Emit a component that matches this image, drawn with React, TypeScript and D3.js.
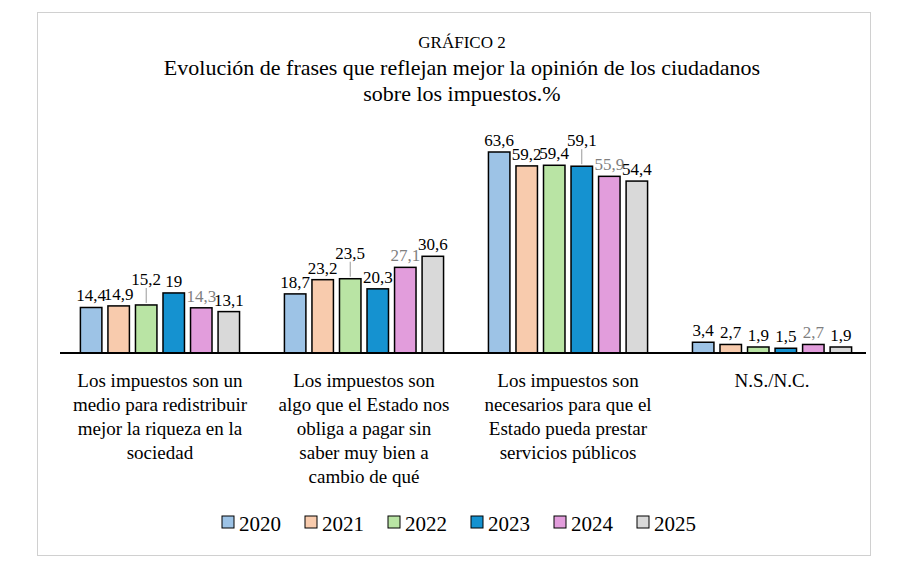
import * as d3 from "d3";
import React from "react";

const categories = [
  ["Los impuestos son un", "medio para redistribuir", "mejor la riqueza en la", "sociedad"],
  ["Los impuestos son", "algo que el Estado nos", "obliga a pagar sin", "saber muy bien a", "cambio de qué"],
  ["Los impuestos son", "necesarios para que el", "Estado pueda prestar", "servicios públicos"],
  ["N.S./N.C."],
];
const years = ["2020", "2021", "2022", "2023", "2024", "2025"];
const values = [
  [14.4, 14.9, 15.2, 19, 14.3, 13.1],
  [18.7, 23.2, 23.5, 20.3, 27.1, 30.6],
  [63.6, 59.2, 59.4, 59.1, 55.9, 54.4],
  [3.4, 2.7, 1.9, 1.5, 2.7, 1.9],
];
// labels lifted with a leader line: [group, year index]
const lifted = [[0, 2], [1, 2], [2, 3]];
const colors = ["#9dc3e6", "#f8cbad", "#b9e4a4", "#1592d0", "#e29ddc", "#d9d9d9"];
const labelColors = ["#000", "#000", "#000", "#000", "#7f7f7f", "#000"];

const fmt = (v: number) => (Number.isInteger(v) ? String(v) : v.toFixed(1).replace(".", ","));

export default function App() {
  const base = 353;
  const x0 = d3.scaleBand<number>().domain([0, 1, 2, 3]).range([60, 872]).paddingInner(0.22).paddingOuter(0.1);
  const x1 = d3.scaleBand<number>().domain(d3.range(6)).range([0, x0.bandwidth()]).paddingInner(0.22);
  const y = d3.scaleLinear().domain([0, 63.6]).range([base, 152]);
  const font = "Liberation Serif, Times New Roman, serif";
  return (
    <div style={{ position: "absolute", left: 0, top: 0 }}>
      <svg width={924} height={576} fontFamily={font} style={{ display: "block" }}>
        <rect x={0} y={0} width={924} height={576} fill="#fff" />
        <rect x={37.5} y={12.5} width={833} height={543} fill="none" stroke="#d0d0d0" />
        <text x={462} y={48} textAnchor="middle" fontSize={17} fontFamily={font}>GRÁFICO 2</text>
        <text x={462} y={75} textAnchor="middle" fontSize={22} fontFamily={font}>Evolución de frases que reflejan mejor la opinión de los ciudadanos</text>
        <text x={462} y={101} textAnchor="middle" fontSize={22} fontFamily={font}>sobre los impuestos.%</text>
        {values.map((vals, g) => (
          <g key={g} transform={`translate(${x0(g)},0)`}>
            {vals.map((v, i) => {
              const bx = x1(i)!;
              const cx = bx + x1.bandwidth() / 2;
              const isLift = lifted.some(([a, b]) => a === g && b === i);
              const ty = y(v) - 6 - (isLift ? 14 : 0);
              return (
                <g key={i}>
                  <rect x={bx} y={y(v)} width={x1.bandwidth()} height={base - y(v)} fill={colors[i]} stroke="#000" strokeWidth={1.5} />
                  {isLift && <line x1={cx} x2={cx} y1={ty + 3} y2={y(v) - 2} stroke="#999" />}
                  <text x={cx} y={ty} textAnchor="middle" fontSize={17} fontFamily={font} fill={labelColors[i]}>{fmt(v)}</text>
                </g>
              );
            })}
          </g>
        ))}
        <line x1={60} x2={866} y1={base} y2={base} stroke="#000" strokeWidth={2} />
        {categories.map((lines, g) => (
          <text key={g} textAnchor="middle" fontSize={19} fontFamily={font}>
            {lines.map((l, k) => (
              <tspan key={k} x={x0(g)! + x0.bandwidth() / 2} y={387 + k * 24}>{l}</tspan>
            ))}
          </text>
        ))}
        {years.map((yr, i) => {
          const lx = 222 + i * 83;
          return (
            <g key={yr}>
              <rect x={lx} y={516} width={12} height={12} fill={colors[i]} stroke="#000" />
              <text x={lx + 17} y={531} fontSize={21} fontFamily={font}>{yr}</text>
            </g>
          );
        })}
      </svg>
    </div>
  );
}
